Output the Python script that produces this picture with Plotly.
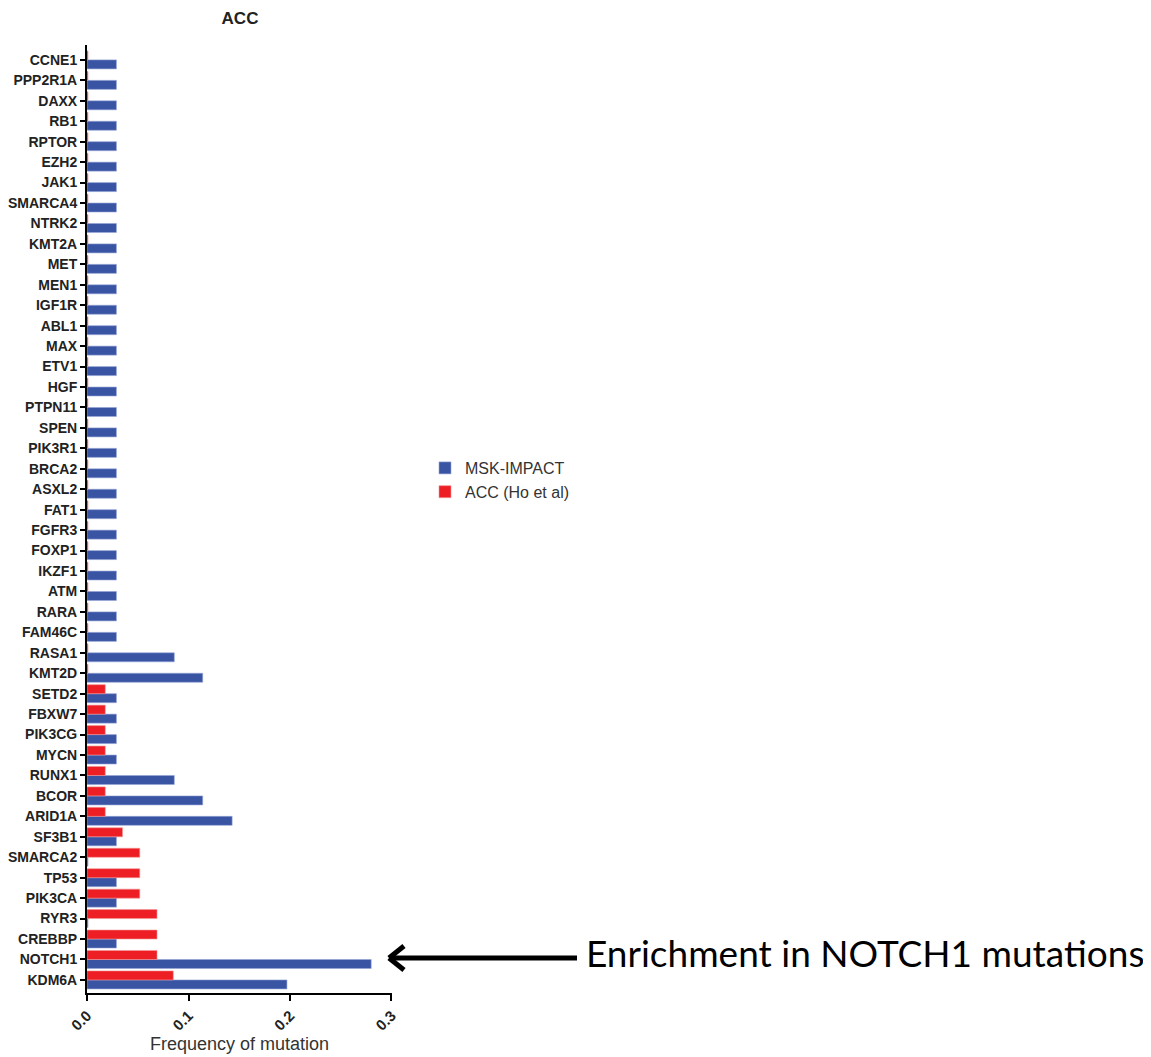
import plotly.graph_objects as go

genes = ["CCNE1", "PPP2R1A", "DAXX", "RB1", "RPTOR", "EZH2", "JAK1", "SMARCA4",
         "NTRK2", "KMT2A", "MET", "MEN1", "IGF1R", "ABL1", "MAX", "ETV1", "HGF",
         "PTPN11", "SPEN", "PIK3R1", "BRCA2", "ASXL2", "FAT1", "FGFR3", "FOXP1",
         "IKZF1", "ATM", "RARA", "FAM46C", "RASA1", "KMT2D", "SETD2", "FBXW7",
         "PIK3CG", "MYCN", "RUNX1", "BCOR", "ARID1A", "SF3B1", "SMARCA2", "TP53",
         "PIK3CA", "RYR3", "CREBBP", "NOTCH1", "KDM6A"]

msk_impact = [0.029, 0.029, 0.029, 0.029, 0.029, 0.029, 0.029, 0.029,
              0.029, 0.029, 0.029, 0.029, 0.029, 0.029, 0.029, 0.029, 0.029,
              0.029, 0.029, 0.029, 0.029, 0.029, 0.029, 0.029, 0.029,
              0.029, 0.029, 0.029, 0.029, 0.086, 0.114, 0.029, 0.029,
              0.029, 0.029, 0.086, 0.114, 0.143, 0.029, 0.001, 0.029,
              0.029, 0.001, 0.029, 0.280, 0.197]

acc_ho = [0.001, 0.001, 0.001, 0.001, 0.001, 0.001, 0.001, 0.001,
          0.001, 0.001, 0.001, 0.001, 0.001, 0.001, 0.001, 0.001, 0.001,
          0.001, 0.001, 0.001, 0.001, 0.001, 0.001, 0.001, 0.001,
          0.001, 0.001, 0.001, 0.001, 0.001, 0.001, 0.018, 0.018,
          0.018, 0.018, 0.018, 0.018, 0.018, 0.035, 0.052, 0.052,
          0.052, 0.069, 0.069, 0.069, 0.085]

x_ticks = [0.0, 0.1, 0.2, 0.3]

BLUE = "rgb(58,84,164)"
RED = "rgb(237,30,36)"

# page body has an 8px margin: size the figure to fit the visible window
OFF = 8
W, H = 1151 - OFF, 1057 - OFF
PL, PR, PT, PB = 87, 392, 45, 993          # plot area edges in screen pixels
L, R, T, B = PL - OFF, W - (PR - OFF), PT - OFF, H - (PB - OFF)


def xp(px):
    return (px - PL) / (PR - PL)


def yp(py):
    return (PB - py) / (PB - PT)


fig = go.Figure()
fig.add_trace(go.Bar(
    y=genes, x=msk_impact, orientation="h", name="MSK-IMPACT",
    marker=dict(color=BLUE, line=dict(color="rgb(150,165,215)", width=0.6)),
))
fig.add_trace(go.Bar(
    y=genes, x=acc_ho, orientation="h", name="ACC (Ho et al)",
    marker=dict(color=RED, line=dict(color="rgb(245,150,150)", width=0.6)),
))

arrow_y = 958
shapes = [
    dict(type="line", xref="paper", yref="paper", x0=xp(577), x1=xp(391),
         y0=yp(arrow_y), y1=yp(arrow_y), line=dict(color="black", width=5)),
    dict(type="line", xref="paper", yref="paper", x0=xp(389), x1=xp(404),
         y0=yp(arrow_y), y1=yp(arrow_y - 12), line=dict(color="black", width=5)),
    dict(type="line", xref="paper", yref="paper", x0=xp(389), x1=xp(404),
         y0=yp(arrow_y), y1=yp(arrow_y + 12), line=dict(color="black", width=5)),
]

fig.update_layout(
    width=W, height=H,
    margin=dict(l=L, r=R, t=T, b=B, pad=0, autoexpand=False),
    paper_bgcolor="white", plot_bgcolor="white",
    barmode="group", bargap=0.12, bargroupgap=0,
    font=dict(family="Liberation Sans, Arial, sans-serif", color="black"),
    title=dict(text="<b>ACC</b>", xref="paper", x=xp(240), xanchor="center",
               yref="container", y=1 - (18 - OFF) / H, yanchor="middle",
               font=dict(size=17, color="#222")),
    showlegend=True,
    legend=dict(x=xp(425), y=yp(451), xanchor="left", yanchor="top",
                font=dict(size=16, color="#333"), tracegroupgap=0,
                bgcolor="rgba(0,0,0,0)"),
    xaxis=dict(range=[0, 0.3005], tickvals=x_ticks, tickformat=".1f",
               tickangle=-45, showgrid=False, zeroline=False, automargin=False,
               showline=True, linecolor="black", linewidth=2,
               ticks="outside", ticklen=6, tickwidth=2, tickcolor="black",
               tickfont=dict(size=15, color="#222",
                             family="Liberation Sans, Arial, sans-serif",
                             weight="bold"),
               title=dict(text="Frequency of mutation", standoff=4,
                          font=dict(size=18, color="#333"))),
    yaxis=dict(categoryorder="array", categoryarray=genes[::-1],
               range=[-0.64, 45.73], showgrid=False, zeroline=False,
               automargin=False,
               showline=True, linecolor="black", linewidth=2,
               ticks="outside", ticklen=5, tickwidth=2, tickcolor="black",
               tickfont=dict(size=14, color="#222",
                             family="Liberation Sans, Arial, sans-serif",
                             weight="bold")),
    shapes=shapes,
    annotations=[dict(text="Enrichment in NOTCH1 mutations", xref="paper",
                      yref="paper", x=xp(584), y=yp(952), xanchor="left",
                      yanchor="middle", showarrow=False,
                      font=dict(family="Lato, sans-serif", size=37,
                                color="black"))],
)

fig.write_html("out.html")
